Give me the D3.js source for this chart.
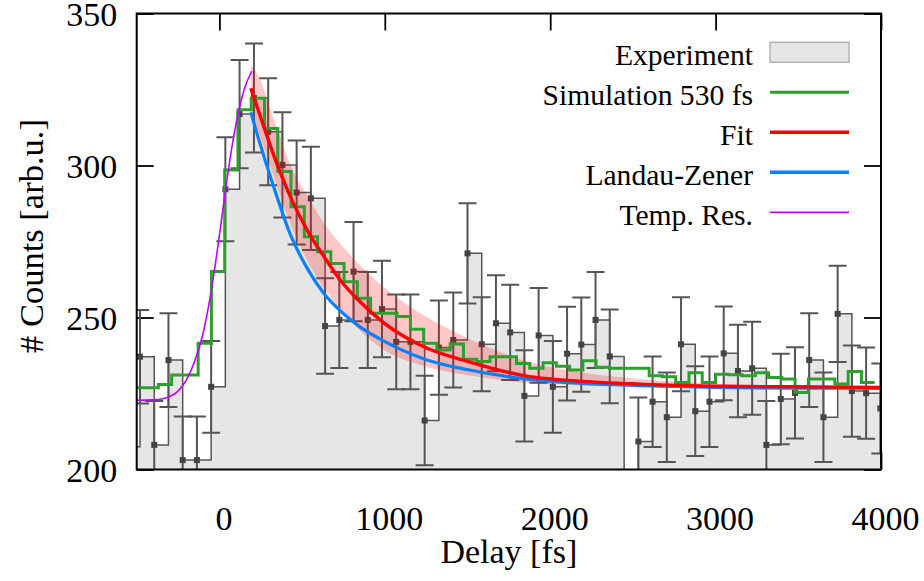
<!DOCTYPE html>
<html>
<head>
<meta charset="utf-8">
<script src="https://cdn.jsdelivr.net/npm/d3@7"></script>
<style>
  body { margin: 0; background: #fff; }
  svg text { font-family: "Liberation Serif", "DejaVu Serif", serif; }
</style>
</head>
<body>
<svg id="chart_svg" width="924" height="581"></svg>
<script>
// experiment histogram: bin start (fs), counts, error
var expDelay = [-566, -480, -394, -308, -222, -136, -50, 36, 122, 209, 295, 381, 467, 553, 639, 725, 811, 897, 983, 1069,
  1155, 1241, 1327, 1414, 1500, 1586, 1672, 1758, 1844, 1930, 2016, 2102, 2188, 2274, 2360, 2447, 2533, 2619, 2705, 2791,
  2877, 2963, 3049, 3135, 3221, 3307, 3394, 3480, 3566, 3652, 3738, 3824, 3910, 3996];
var expCounts = [207.5, 237.1, 208.1, 236.0, 203.1, 203.1, 227.2, 292.2, 316.9, 322.2, 311.1, 300.2, 291.1, 289.2, 247.2, 249.2, 265.1, 249.2, 252.8, 242.0,
  242.0, 216.1, 240.1, 242.6, 271.1, 241.2, 248.1, 245.1, 224.2, 244.1, 227.2, 238.1, 241.1, 249.2, 237.2, 185.0, 209.2, 222.3, 217.2, 241.2,
  219.2, 222.3, 238.2, 232.4, 233.3, 208.1, 223.2, 225.2, 236.0, 217.2, 251.2, 225.8, 225.1, 220.1];
var expErr = [14.4, 15.4, 14.4, 15.4, 14.3, 14.3, 15.1, 17.1, 17.8, 17.9, 17.6, 17.3, 17.1, 17.0, 15.7, 15.8, 16.3, 15.8, 15.9, 15.6,
  15.6, 14.7, 15.5, 15.6, 16.5, 15.5, 15.8, 15.7, 15.0, 15.6, 15.1, 15.4, 15.5, 15.8, 15.4, 13.6, 14.5, 14.9, 14.7, 15.5,
  14.8, 14.9, 15.4, 15.2, 15.3, 14.4, 14.9, 15.0, 15.4, 14.7, 15.8, 15.0, 15.0, 14.8];

// simulation 530 fs (step edges and levels)
var simDelay = [-529.4, -449.2, -369.0, -288.8, -208.6, -128.4, -48.2, 32.0, 112.2, 192.4, 272.6, 352.8, 433.0, 513.2, 593.4,
  673.6, 753.8, 834.0, 914.2, 994.4, 1074.6, 1154.8, 1235.0, 1315.2, 1395.4, 1475.6, 1555.8, 1636.0, 1716.2, 1796.4,
  1876.6, 1956.8, 2037.0, 2117.2, 2197.4, 2277.6, 2357.8, 2438.0, 2518.2, 2598.4, 2678.6, 2758.8, 2839.0, 2919.2, 2999.4,
  3079.6, 3159.8, 3240.0, 3320.2, 3400.4, 3480.6, 3560.8, 3641.0, 3721.2, 3801.4, 3881.6, 3961.8];
var simCounts = [226.9, 226.9, 228.0, 231.1, 231.1, 241.5, 265.1, 298.5, 318.3, 322.1, 312.2, 298.0, 286.4, 276.6, 271.6,
  267.8, 261.8, 256.3, 251.4, 251.4, 250.3, 246.1, 241.5, 239.3, 241.3, 236.3, 235.5, 237.1, 237.1, 234.9,
  233.3, 235.1, 234.0, 232.7, 235.8, 233.6, 233.3, 233.3, 233.3, 230.8, 230.5, 228.6, 231.8, 228.6, 231.3,
  231.2, 230.8, 231.8, 230.3, 229.8, 225.4, 229.8, 229.8, 228.1, 232.2, 228.6, 228.6];

// fit with confidence band, Landau-Zener, temporal resolution
var fitDelay = [190, 230, 331, 431, 533, 633, 735, 835, 992, 1242, 1504, 1849, 2200, 2540, 3000, 3500, 4000];
var fitCounts = [325.4, 319.0, 303.0, 289.5, 278.5, 270.0, 262.0, 256.0, 248.3, 240.2, 235.5, 230.8, 229.0, 228.1, 227.4, 227.2, 227.0];
var bandUpper = [333.0, 330.0, 315.0, 300.0, 290.0, 281.0, 274.0, 268.0, 260.0, 250.5, 243.2, 235.8, 231.8, 229.8, 228.2, 227.5, 227.2];
var bandLower = [317.0, 312.0, 296.0, 280.5, 268.5, 259.5, 252.5, 246.5, 239.5, 234.0, 231.0, 228.5, 227.6, 227.3, 227.0, 226.9, 226.8];
var lzCounts = [317.5, 310.0, 292.5, 277.0, 266.0, 257.8, 252.0, 247.5, 242.3, 236.3, 232.8, 229.8, 228.3, 227.6, 227.0, 226.8, 226.7];

var resDelay = [-500, -400, -350, -300, -250, -200, -150, -100, -50, 0, 50, 100, 150, 195];
var resCounts = [222.8, 222.9, 223.2, 224.0, 225.8, 229.4, 235.5, 244.5, 258.5, 277.0, 297.0, 313.5, 325.0, 331.0];

var xTicks = [0, 1000, 2000, 3000, 4000];
var yTicks = [200, 250, 300, 350];
var legendLabels = ["Experiment", "Simulation 530 fs", "Fit", "Landau-Zener", "Temp. Res."];

var svg, chart, xScale, yScale;
var margin = { top: 13.5, right: 43, bottom: 111.5, left: 136.7 };
var chartWidth = 924 - margin.left - margin.right;
var chartHeight = 581 - margin.top - margin.bottom;
var fontStack = '"Liberation Serif", "DejaVu Serif", serif';

function zip(xs, ys) {
  return xs.map(function (d, i) { return { x: d, y: ys[i] }; });
}

function drawAxes() {
  var tickLen = 17;
  var bottom = chart.append('g')
    .attr('transform', `translate(0, ${chartHeight})`)
    .call(d3.axisBottom(xScale).tickValues(xTicks).tickFormat(d3.format('d'))
      .tickSizeInner(-tickLen).tickSizeOuter(0).tickPadding(36.5));
  var left = chart.append('g')
    .call(d3.axisLeft(yScale).tickValues(yTicks).tickFormat(d3.format('d'))
      .tickSizeInner(-tickLen).tickSizeOuter(0).tickPadding(19.5));
  var top = chart.append('g')
    .call(d3.axisTop(xScale).tickValues(xTicks).tickSizeInner(-tickLen).tickSizeOuter(0).tickFormat(''));
  var right = chart.append('g')
    .attr('transform', `translate(${chartWidth}, 0)`)
    .call(d3.axisRight(yScale).tickValues(yTicks).tickSizeInner(-tickLen).tickSizeOuter(0).tickFormat(''));

  [bottom, left, top, right].forEach(function (g) {
    g.select('.domain').remove();
    g.selectAll('line').attr('stroke', '#000').attr('stroke-width', 1.8);
    g.selectAll('text').attr('font-family', fontStack).attr('font-size', 34).attr('fill', '#000');
  });
  // labels sit a little right of their ticks in the original
  bottom.selectAll('text').attr('dx', 4);
  left.selectAll('text').attr('dy', '0.36em');

  // axis titles
  svg.append('text')
    .attr('x', margin.left + chartWidth / 2)
    .attr('y', 563)
    .attr('text-anchor', 'middle')
    .attr('font-size', 34)
    .text('Delay [fs]');

  svg.append('text')
    .attr('transform', 'translate(43, 236) rotate(-90)')
    .attr('text-anchor', 'middle')
    .attr('font-size', 34.5)
    .text('# Counts [arb.u.]');
}

function drawData() {
  svg.append('clipPath').attr('id', 'plotClip')
    .append('rect').attr('width', chartWidth).attr('height', chartHeight);

  var g = chart.append('g').attr('clip-path', 'url(#plotClip)');

  // experiment bars (filled steps)
  var steps = zip(expDelay, expCounts);
  var binW = expDelay[1] - expDelay[0];
  steps.push({ x: expDelay[expDelay.length - 1] + binW, y: expCounts[expCounts.length - 1] });

  g.append('path')
    .datum(steps)
    .attr('d', d3.area().curve(d3.curveStepAfter)
      .x(d => xScale(d.x)).y0(chartHeight + 5).y1(d => yScale(d.y)))
    .attr('fill', '#e6e6e6');

  g.append('path')
    .datum(steps)
    .attr('d', d3.line().curve(d3.curveStepAfter).x(d => xScale(d.x)).y(d => yScale(d.y)))
    .attr('fill', 'none')
    .attr('stroke', '#555')
    .attr('stroke-width', 1.5);

  // error bars
  var errData = expDelay.map(function (d, i) { return { x: d, y: expCounts[i], e: expErr[i] }; });
  var eb = g.append('g').attr('stroke', '#555').attr('stroke-width', 2);
  eb.selectAll('line.v').data(errData).join('line')
    .attr('x1', d => xScale(d.x)).attr('x2', d => xScale(d.x))
    .attr('y1', d => yScale(d.y - d.e)).attr('y2', d => yScale(d.y + d.e));
  eb.selectAll('line.t').data(errData).join('line')
    .attr('x1', d => xScale(d.x) - 9).attr('x2', d => xScale(d.x) + 9)
    .attr('y1', d => yScale(d.y + d.e)).attr('y2', d => yScale(d.y + d.e));
  eb.selectAll('line.b').data(errData).join('line')
    .attr('x1', d => xScale(d.x) - 9).attr('x2', d => xScale(d.x) + 9)
    .attr('y1', d => yScale(d.y - d.e)).attr('y2', d => yScale(d.y - d.e));

  g.selectAll('rect.pt').data(errData).join('rect')
    .attr('x', d => xScale(d.x) - 3).attr('y', d => yScale(d.y) - 3)
    .attr('width', 6).attr('height', 6)
    .attr('fill', '#444');

  // confidence band of the fit
  var band = fitDelay.map(function (d, i) { return { x: d, lo: bandLower[i], hi: bandUpper[i] }; });
  g.append('path')
    .datum(band)
    .attr('d', d3.area().curve(d3.curveMonotoneX)
      .x(d => xScale(d.x)).y0(d => yScale(d.lo)).y1(d => yScale(d.hi)))
    .attr('fill', '#ff0000')
    .attr('fill-opacity', 0.22);

  var smooth = d3.line().curve(d3.curveMonotoneX).x(d => xScale(d.x)).y(d => yScale(d.y));

  g.append('path')
    .datum(zip(simDelay, simCounts))
    .attr('d', d3.line().curve(d3.curveStepAfter).x(d => xScale(d.x)).y(d => yScale(d.y)))
    .attr('fill', 'none').attr('stroke', '#2ca02c').attr('stroke-width', 3);

  g.append('path')
    .datum(zip(resDelay, resCounts))
    .attr('d', smooth)
    .attr('fill', 'none').attr('stroke', '#c000ff').attr('stroke-width', 1.6);

  g.append('path')
    .datum(zip(fitDelay, lzCounts))
    .attr('d', smooth)
    .attr('fill', 'none').attr('stroke', '#0a80ff').attr('stroke-width', 3.2);

  g.append('path')
    .datum(zip(fitDelay, fitCounts))
    .attr('d', smooth)
    .attr('fill', 'none').attr('stroke', '#ff0000').attr('stroke-width', 3.4);

  // frame
  chart.append('rect')
    .attr('width', chartWidth).attr('height', chartHeight)
    .attr('fill', 'none').attr('stroke', '#000').attr('stroke-width', 2);
}

function drawLegend() {
  var styles = [
    { type: 'box' },
    { color: '#2ca02c', w: 3 },
    { color: '#ff0000', w: 3.6 },
    { color: '#0a80ff', w: 3.6 },
    { color: '#c000ff', w: 1.8 }
  ];
  var leg = svg.append('g');
  legendLabels.forEach(function (label, i) {
    var cy = 52.3 + i * 40;
    leg.append('text')
      .attr('x', 753)
      .attr('y', cy + 13)
      .attr('text-anchor', 'end')
      .attr('font-size', 29.6)
      .text(label);
    if (styles[i].type === 'box') {
      leg.append('rect')
        .attr('x', 770).attr('y', cy - 10)
        .attr('width', 79).attr('height', 20)
        .attr('fill', '#e6e6e6').attr('stroke', '#b4b4b4').attr('stroke-width', 1.5);
    } else {
      leg.append('line')
        .attr('x1', 770).attr('x2', 849)
        .attr('y1', cy).attr('y2', cy)
        .attr('stroke', styles[i].color).attr('stroke-width', styles[i].w);
    }
  });
}

svg = d3.select('#chart_svg');
chart = svg.append('g').attr('transform', `translate(${margin.left}, ${margin.top})`);
xScale = d3.scaleLinear().domain([-500, 4000]).range([0, chartWidth]);
yScale = d3.scaleLinear().domain([200, 350]).range([chartHeight, 0]);

drawAxes();
drawData();
drawLegend();
</script>
</body>
</html>
